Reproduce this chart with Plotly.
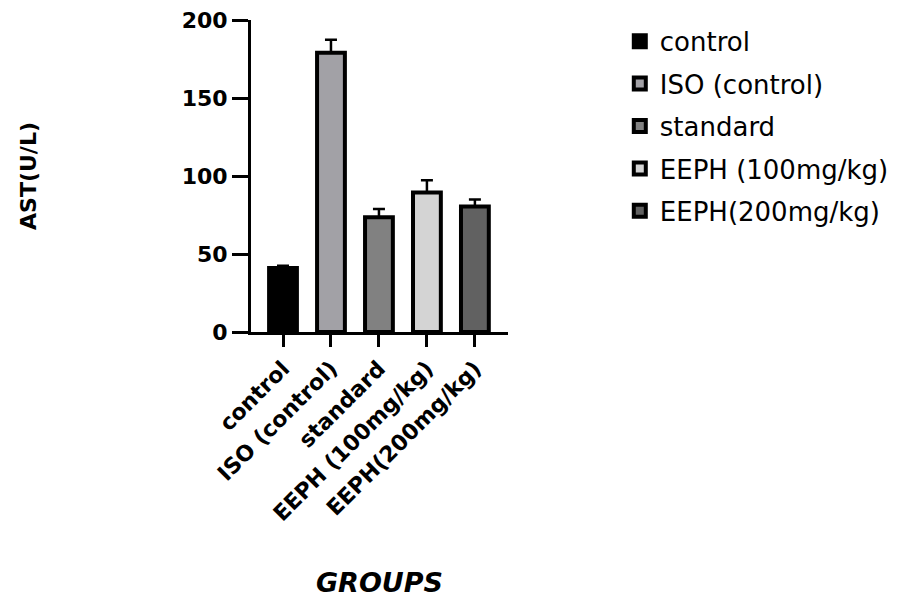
import plotly.graph_objects as go

groups = ["control", "ISO (control)", "standard", "EEPH (100mg/kg)", "EEPH(200mg/kg)"]
ast_mean = [41, 179, 73.5, 89.5, 80.5]
ast_sem = [1.5, 8.3, 5.4, 7.8, 4.4]
colors = ["#000000", "#a2a1a6", "#818181", "#d4d4d4", "#616161"]

FONT = "DejaVu Sans"

fig = go.Figure()
for i, g in enumerate(groups):
    fig.add_trace(go.Bar(
        x=[g], y=[ast_mean[i]], name=g,
        marker=dict(color=colors[i], line=dict(color="black", width=4)),
        width=0.58,
        legendgroup=g,
        error_y=dict(type="data", array=[ast_sem[i]], arrayminus=[0], symmetric=False,
                     color="black", thickness=2.5, width=6),
    ))

fig.update_layout(
    width=912, height=598,
    margin=dict(l=251, r=404, t=20, b=266),
    plot_bgcolor="white", paper_bgcolor="white",
    showlegend=True,
    legend=dict(x=1.435, y=1.007, xanchor="left", yanchor="top",
                font=dict(family=FONT, size=26, color="black"),
                tracegroupgap=5.6, bgcolor="rgba(0,0,0,0)"),
    xaxis=dict(
        range=[-0.667, 4.69], showline=True, linecolor="black", linewidth=3,
        ticks="outside", ticklen=12, tickwidth=3, tickcolor="black",
        tickangle=-45, showgrid=False, zeroline=False,
        tickfont=dict(family=FONT, size=22, color="black", weight="bold"),
        title=dict(text="<b><i>GROUPS</i></b>", standoff=65,
                   font=dict(family=FONT, size=27, color="black")),
        automargin=False,
    ),
    yaxis=dict(
        range=[0, 200], tickvals=[0, 50, 100, 150, 200], showline=True,
        linecolor="black", linewidth=3, ticks="outside", ticklen=16, tickwidth=3,
        tickcolor="black", showgrid=False, zeroline=False,
        tickfont=dict(family=FONT, size=22, color="black", weight="bold"),
        title=dict(text="<b>AST(U/L)</b>", standoff=139,
                   font=dict(family=FONT, size=22, color="black")),
        automargin=False,
    ),
)

fig.write_html("out.html", config={"displayModeBar": False},
               post_script="document.body.style.margin='0';")
